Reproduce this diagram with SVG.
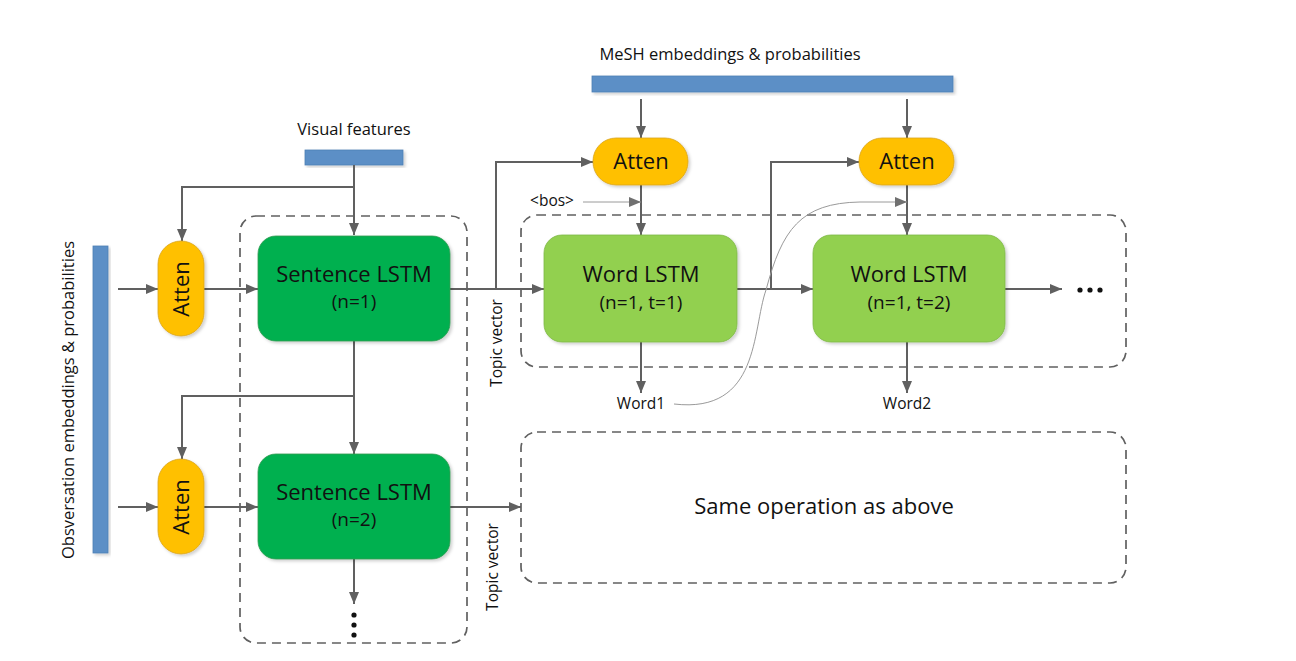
<svg xmlns="http://www.w3.org/2000/svg" width="1296" height="661" viewBox="0 0 1296 661">
<style>
  text { font-family: "Open Sans", "Noto Sans", "DejaVu Sans", sans-serif; fill: #111; }
  .lbl { font-size: 16.5px; }
  .sm { font-size: 15.5px; }
  .big { font-size: 22px; }
  .mid { font-size: 19px; }
  .con { fill: none; stroke: #606060; stroke-width: 2; }
  .thin { fill: none; stroke: #9a9a9a; stroke-width: 1; }
  .dash { fill: none; stroke: #606060; stroke-width: 1.7; stroke-dasharray: 9 6; }
  .bar { fill: #5b8fc6; stroke: #4f7fb5; stroke-width: 0.8; }
  .sent { fill: #00b050; stroke: #2f9a50; stroke-width: 0.8; }
  .word { fill: #92d050; stroke: #7fb848; stroke-width: 0.8; }
  .att { fill: #ffc000; stroke: #d9a520; stroke-width: 0.8; }
</style>
<defs>
  <marker id="arr" viewBox="0 0 12 10" refX="12" refY="5" markerWidth="12" markerHeight="10" markerUnits="userSpaceOnUse" orient="auto">
    <path d="M0,0 L12,5 L0,10 z" fill="#606060"/>
  </marker>
  <marker id="arrl" viewBox="0 0 12 10" refX="12" refY="5" markerWidth="12" markerHeight="10" markerUnits="userSpaceOnUse" orient="auto">
    <path d="M0,0 L12,5 L0,10 z" fill="#707070"/>
  </marker>
  <filter id="sh" x="-10%" y="-10%" width="130%" height="130%">
    <feDropShadow dx="2" dy="2" stdDeviation="1.5" flood-color="#000" flood-opacity="0.18"/>
  </filter>
</defs>
<rect width="1296" height="661" fill="#fff"/>

<!-- dashed containers -->
<g id="sentence-group">
  <rect class="dash" x="240" y="216" width="227" height="427" rx="16"/>
</g>
<g id="word-group">
  <rect class="dash" x="521" y="215" width="605" height="152" rx="16"/>
</g>
<g id="same-op">
  <rect class="dash" x="521" y="432" width="605" height="151" rx="16"/>
  <text x="824" y="514" font-size="22" text-anchor="middle">Same operation as above</text>
</g>

<!-- input bars -->
<g id="visual-features">
  <rect class="bar" x="305" y="150" width="98" height="15" filter="url(#sh)"/>
  <text class="lbl" x="354" y="135" text-anchor="middle">Visual features</text>
</g>
<g id="mesh">
  <rect class="bar" x="592" y="76" width="361" height="16" filter="url(#sh)"/>
  <text class="lbl" x="730" y="60" text-anchor="middle" font-size="17.5">MeSH embeddings &amp; probabilities</text>
</g>
<g id="observation">
  <rect class="bar" x="93" y="246" width="15" height="307" filter="url(#sh)"/>
  <text x="0" y="0" font-size="16.5" text-anchor="middle" transform="translate(74,400) rotate(-90)">Obsversation embeddings &amp; probabilities</text>
</g>

<!-- connectors -->
<g id="connectors">
  <path class="con" d="M354,165 V235" marker-end="url(#arr)"/>
  <path class="con" d="M354,187 H182 V241" marker-end="url(#arr)"/>
  <path class="con" d="M118,289 H158" marker-end="url(#arr)"/>
  <path class="con" d="M204,289 H258" marker-end="url(#arr)"/>
  <path class="con" d="M354,341 V454" marker-end="url(#arr)"/>
  <path class="con" d="M354,396 H182 V459" marker-end="url(#arr)"/>
  <path class="con" d="M118,507 H158" marker-end="url(#arr)"/>
  <path class="con" d="M204,507 H258" marker-end="url(#arr)"/>
  <path class="con" d="M354,559 V604" marker-end="url(#arr)"/>
  <path class="con" d="M450,507 H521" marker-end="url(#arr)"/>
  <path class="con" d="M450,289 H544" marker-end="url(#arr)"/>
  <path class="con" d="M496,289 V162 H593" marker-end="url(#arr)"/>
  <path class="con" d="M641,99 V138" marker-end="url(#arr)"/>
  <path class="con" d="M907,99 V138" marker-end="url(#arr)"/>
  <path class="con" d="M641,185 V235" marker-end="url(#arr)"/>
  <path class="con" d="M907,185 V235" marker-end="url(#arr)"/>
  <path class="con" d="M737,289 H813" marker-end="url(#arr)"/>
  <path class="con" d="M771,289 V162 H859" marker-end="url(#arr)"/>
  <path class="con" d="M1005,289 H1062" marker-end="url(#arr)"/>
  <path class="con" d="M641,342 V393" marker-end="url(#arr)"/>
  <path class="con" d="M907,342 V393" marker-end="url(#arr)"/>
  <path class="thin" d="M583,202 H641" marker-end="url(#arrl)"/>
  <path class="thin" d="M674,404 C760,414 752,330 766,290 C782,230 800,203 860,202 H907" marker-end="url(#arrl)"/>
</g>

<!-- nodes -->
<g id="atten-s1">
  <rect class="att" x="158" y="241" width="46" height="95" rx="23" filter="url(#sh)"/>
  <text class="big" x="0" y="0" text-anchor="middle" transform="translate(189,289) rotate(-90)">Atten</text>
</g>
<g id="atten-s2">
  <rect class="att" x="158" y="459" width="46" height="95" rx="23" filter="url(#sh)"/>
  <text class="big" x="0" y="0" text-anchor="middle" transform="translate(189,507) rotate(-90)">Atten</text>
</g>
<g id="sentence-lstm-1">
  <rect class="sent" x="258" y="236" width="192" height="105" rx="18" filter="url(#sh)"/>
  <text class="big" x="354" y="282" text-anchor="middle">Sentence LSTM</text>
  <text class="mid" x="354" y="308" text-anchor="middle">(n=1)</text>
</g>
<g id="sentence-lstm-2">
  <rect class="sent" x="258" y="454" width="192" height="105" rx="18" filter="url(#sh)"/>
  <text class="big" x="354" y="500" text-anchor="middle">Sentence LSTM</text>
  <text class="mid" x="354" y="526" text-anchor="middle">(n=2)</text>
</g>
<g id="atten-w1">
  <rect class="att" x="593" y="138" width="95" height="47" rx="23" filter="url(#sh)"/>
  <text class="big" x="641" y="169" text-anchor="middle">Atten</text>
</g>
<g id="atten-w2">
  <rect class="att" x="859" y="138" width="95" height="47" rx="23" filter="url(#sh)"/>
  <text class="big" x="907" y="169" text-anchor="middle">Atten</text>
</g>
<g id="word-lstm-1">
  <rect class="word" x="544" y="235" width="193" height="107" rx="18" filter="url(#sh)"/>
  <text class="big" x="641" y="282" text-anchor="middle">Word LSTM</text>
  <text class="mid" x="641" y="309" text-anchor="middle">(n=1, t=1)</text>
</g>
<g id="word-lstm-2">
  <rect class="word" x="813" y="235" width="192" height="107" rx="18" filter="url(#sh)"/>
  <text class="big" x="909" y="282" text-anchor="middle">Word LSTM</text>
  <text class="mid" x="909" y="309" text-anchor="middle">(n=1, t=2)</text>
</g>

<!-- labels -->
<g id="labels">
  <text class="sm" x="0" y="0" text-anchor="middle" transform="translate(502,343) rotate(-90)">Topic vector</text>
  <text class="sm" x="0" y="0" text-anchor="middle" transform="translate(498,567) rotate(-90)">Topic vector</text>
  <text class="sm" x="552" y="206" text-anchor="middle">&lt;bos&gt;</text>
  <text class="sm" x="641" y="409" text-anchor="middle">Word1</text>
  <text class="sm" x="907" y="409" text-anchor="middle">Word2</text>
</g>
<g id="ellipsis">
  <circle cx="1080" cy="290" r="2.6" fill="#111"/>
  <circle cx="1090" cy="290" r="2.6" fill="#111"/>
  <circle cx="1100" cy="290" r="2.6" fill="#111"/>
  <circle cx="354" cy="615" r="2.6" fill="#111"/>
  <circle cx="354" cy="625" r="2.6" fill="#111"/>
  <circle cx="354" cy="635" r="2.6" fill="#111"/>
</g>
</svg>
